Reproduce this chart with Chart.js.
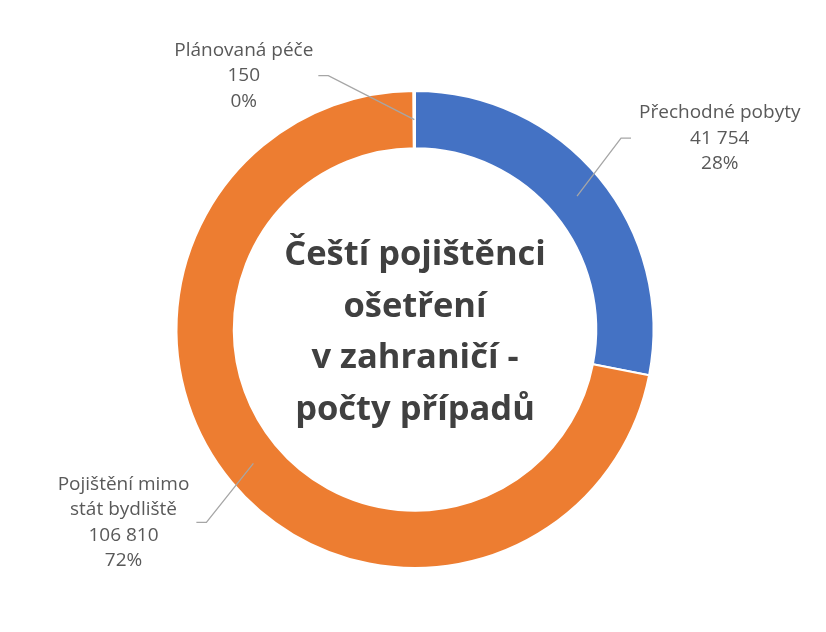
<!DOCTYPE html>
<html>
<head>
<meta charset="utf-8">
<script src="https://cdn.jsdelivr.net/npm/chart.js@4/dist/chart.umd.min.js"></script>
<style>
  html, body { margin: 0; padding: 0; background: #fff; }
</style>
</head>
<body>
<canvas id="c" width="826" height="632"></canvas>
<script>
// data
const categories = ['Přechodné pobyty', 'Pojištění mimo stát bydliště', 'Plánovaná péče'];
const cases = [41754, 106810, 150];
const sliceColors = ['#4472C4', '#ED7D31', '#A5A5A5'];
const titleLines = ['Čeští pojištěnci', 'ošetření', 'v zahraničí -', 'počty případů'];

// where each label sits: elbow offset from the leader start, text side, gap
const labelLayout = [
  { dx: 44, dy: -58, side: 1, gap: 8 },
  { dx: -47, dy: 59, side: -1, gap: 7 },
  { dx: -86, dy: -44, side: -1, gap: 5 },
];

const LABEL_FONT = '19px "Open Sans"';
const LABEL_LH = 25.5;
const LABEL_WRAP = 164;
const TITLE_FONT = 'bold 34.5px "Open Sans"';
const TITLE_LH = 51.7;

function fmtNumber(v) {
  return String(v).replace(/\B(?=(\d{3})+(?!\d))/g, ' ');
}

function wrap(ctx, text, maxWidth) {
  const words = text.split(' ');
  const lines = [];
  let cur = '';
  words.forEach((w) => {
    const test = cur ? cur + ' ' + w : w;
    if (cur && ctx.measureText(test).width > maxWidth) {
      lines.push(cur);
      cur = w;
    } else {
      cur = test;
    }
  });
  if (cur) lines.push(cur);
  return lines;
}

// leader lines + data labels
const labelPlugin = {
  id: 'excelLabels',
  afterDatasetsDraw(chart) {
    const ctx = chart.ctx;
    const meta = chart.getDatasetMeta(0);
    const values = chart.data.datasets[0].data;
    const total = values.reduce((a, b) => a + b, 0);

    ctx.save();
    ctx.font = LABEL_FONT;
    meta.data.forEach((arc, i) => {
      const p = arc.getProps(['x', 'y', 'startAngle', 'endAngle', 'innerRadius', 'outerRadius'], true);
      const mid = (p.startAngle + p.endAngle) / 2;
      const r = (p.innerRadius + p.outerRadius) / 2;
      const sx = p.x + Math.cos(mid) * r;
      const sy = p.y + Math.sin(mid) * r;
      const lay = labelLayout[i];
      const ex = sx + lay.dx;
      const ey = sy + lay.dy;
      const hx = ex + lay.side * 10;

      ctx.strokeStyle = '#A6A6A6';
      ctx.lineWidth = 1.3;
      ctx.beginPath();
      ctx.moveTo(sx, sy);
      ctx.lineTo(ex, ey);
      ctx.lineTo(hx, ey);
      ctx.stroke();

      const lines = wrap(ctx, chart.data.labels[i], LABEL_WRAP);
      lines.push(fmtNumber(values[i]));
      lines.push(Math.round(values[i] * 100 / total) + '%');
      const w = Math.max(...lines.map((l) => ctx.measureText(l).width));
      const near = hx + lay.side * lay.gap;
      const cx = near + lay.side * w / 2;

      ctx.fillStyle = '#595959';
      ctx.textAlign = 'center';
      ctx.textBaseline = 'middle';
      lines.forEach((l, k) => {
        ctx.fillText(l, cx, ey + (k - (lines.length - 1) / 2) * LABEL_LH);
      });
    });
    ctx.restore();
  },
};

// title in the hole
const centerTitle = {
  id: 'centerTitle',
  afterDraw(chart) {
    const ctx = chart.ctx;
    const arc = chart.getDatasetMeta(0).data[0];
    const cx = arc.x;
    const cy = arc.y;
    ctx.save();
    ctx.font = TITLE_FONT;
    ctx.fillStyle = '#404040';
    ctx.textAlign = 'center';
    ctx.textBaseline = 'alphabetic';
    titleLines.forEach((t, i) => {
      ctx.fillText(t, cx, cy + (i - (titleLines.length - 1) / 2) * TITLE_LH + 13);
    });
    ctx.restore();
  },
};

new Chart(document.getElementById('c'), {
  type: 'doughnut',
  data: {
    labels: categories,
    datasets: [{
      data: cases,
      backgroundColor: sliceColors,
      borderColor: '#FFFFFF',
      borderWidth: 2,
      hoverOffset: 0,
      offset: 0,
    }],
  },
  options: {
    responsive: false,
    animation: false,
    events: [],
    cutout: '76%',
    layout: { padding: { top: 90, bottom: 63, left: 4, right: 0 } },
    plugins: {
      legend: { display: false },
      tooltip: { enabled: false },
      title: { display: false },
    },
  },
  plugins: [labelPlugin, centerTitle],
});
</script>
</body>
</html>
